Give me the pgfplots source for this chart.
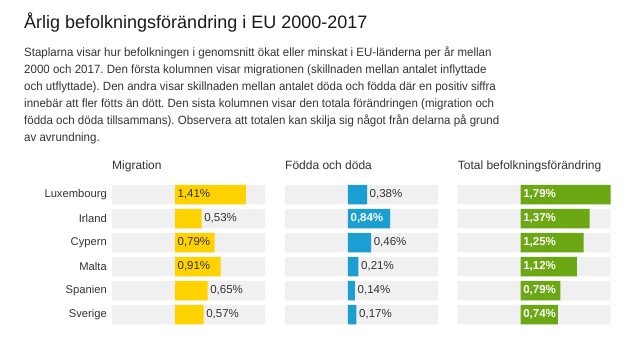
\documentclass[border=0pt]{standalone}
\usepackage{pgfplots}
\pgfplotsset{compat=1.18}
\usepackage{fontspec}
\setmainfont{Liberation Sans}
\newfontfamily\parafont{Liberation Sans}[FakeStretch=0.96]
\frenchspacing
\definecolor{migc}{HTML}{FFD200}
\definecolor{fodc}{HTML}{1B9FD2}
\definecolor{totc}{HTML}{6BA814}
\definecolor{trk}{HTML}{F0F0F0}
\definecolor{txt}{HTML}{333333}
\definecolor{ttl}{HTML}{1A1A1A}
\pgfplotsset{
  panel/.style={
    scale only axis, width=153pt, height=144pt,
    xmin=-1.25, xmax=1.79, ymin=-0.5, ymax=5.5, y dir=reverse,
    enlargelimits=false, clip=false,
    axis line style={draw=none}, tick style={draw=none},
    xtick=\empty, ytick=\empty,
    title style={at={(0,1)}, anchor=base west, yshift=6.8pt, inner sep=0pt,
      font=\fontsize{12}{14}\selectfont, text=txt},
  },
  barp/.style={xbar, bar shift=0pt, bar width=19.5pt, draw=none},
  inlab/.style={draw=none, mark=none, nodes near coords, point meta=explicit symbolic,
    nodes near coords style={anchor=west, inner sep=0pt, xshift=2.5pt,
      font=\fontsize{11.5}{13}\selectfont, text=#1}},
  boldlab/.style={draw=none, mark=none, nodes near coords, point meta=explicit symbolic,
    nodes near coords style={anchor=west, inner sep=0pt, xshift=2.5pt,
      font=\fontsize{11.5}{13}\selectfont\bfseries, text=white}},
}
\begin{document}
\begin{tikzpicture}
\path[use as bounding box, fill=white] (0pt,0pt) rectangle (640pt,-360pt);
\node[anchor=base west, inner sep=0pt, text=ttl, font=\fontsize{18}{22}\selectfont] at (24pt,-28pt) {Årlig befolkningsförändring i EU 2000-2017};
\begin{scope}[every node/.style={anchor=base west, inner sep=0pt, text=txt, font=\parafont\fontsize{12}{17}\selectfont}]
\node at (24pt,-56pt) {Staplarna visar hur befolkningen i genomsnitt ökat eller minskat i EU-länderna per år mellan};
\node at (24pt,-73pt) {2000 och 2017. Den första kolumnen visar migrationen (skillnaden mellan antalet inflyttade};
\node at (24pt,-90pt) {och utflyttade). Den andra visar skillnaden mellan antalet döda och födda där en positiv siffra};
\node at (24pt,-107pt) {innebär att fler fötts än dött. Den sista kolumnen visar den totala förändringen (migration och};
\node at (24pt,-124pt) {födda och döda tillsammans). Observera att totalen kan skilja sig något från delarna på grund};
\node at (24pt,-141pt) {av avrundning.};
\end{scope}

% Migration
\begin{axis}[panel, at={(112pt,-182.5pt)}, anchor=north west, title={Migration},
  ytick={0,1,2,3,4,5}, yticklabels={Luxembourg,Irland,Cypern,Malta,Spanien,Sverige},
  yticklabel style={anchor=east, inner sep=0pt, xshift=-5pt, font=\fontsize{11.2}{14}\selectfont, text=txt}]
\addplot[barp, fill=trk] coordinates {(1.79,0)(1.79,1)(1.79,2)(1.79,3)(1.79,4)(1.79,5)};
\addplot[barp, fill=trk] coordinates {(-1.25,0)(-1.25,1)(-1.25,2)(-1.25,3)(-1.25,4)(-1.25,5)};
\addplot[barp, fill=migc] coordinates {(1.41,0)(0.53,1)(0.79,2)(0.91,3)(0.65,4)(0.57,5)};
\addplot[inlab=txt] coordinates {(0,0) [1,41\%] (0,2) [0,79\%] (0,3) [0,91\%]};
\addplot[inlab=txt] coordinates {(0.53,1) [0,53\%] (0.65,4) [0,65\%] (0.57,5) [0,57\%]};
\end{axis}

% Födda och döda
\begin{axis}[panel, at={(285pt,-182.5pt)}, anchor=north west, title={Födda och döda}]
\addplot[barp, fill=trk] coordinates {(1.79,0)(1.79,1)(1.79,2)(1.79,3)(1.79,4)(1.79,5)};
\addplot[barp, fill=trk] coordinates {(-1.25,0)(-1.25,1)(-1.25,2)(-1.25,3)(-1.25,4)(-1.25,5)};
\addplot[barp, fill=fodc] coordinates {(0.38,0)(0.84,1)(0.46,2)(0.21,3)(0.14,4)(0.17,5)};
\addplot[boldlab] coordinates {(0,1) [0,84\%]};
\addplot[inlab=txt] coordinates {(0.38,0) [0,38\%] (0.46,2) [0,46\%] (0.21,3) [0,21\%] (0.14,4) [0,14\%] (0.17,5) [0,17\%]};
\end{axis}

% Total
\begin{axis}[panel, at={(457.7pt,-182.5pt)}, anchor=north west, title={Total befolkningsförändring}]
\addplot[barp, fill=trk] coordinates {(1.79,0)(1.79,1)(1.79,2)(1.79,3)(1.79,4)(1.79,5)};
\addplot[barp, fill=trk] coordinates {(-1.25,0)(-1.25,1)(-1.25,2)(-1.25,3)(-1.25,4)(-1.25,5)};
\addplot[barp, fill=totc] coordinates {(1.79,0)(1.37,1)(1.25,2)(1.12,3)(0.79,4)(0.74,5)};
\addplot[boldlab] coordinates {(0,0) [1,79\%] (0,1) [1,37\%] (0,2) [1,25\%] (0,3) [1,12\%] (0,4) [0,79\%] (0,5) [0,74\%]};
\end{axis}
\end{tikzpicture}
\end{document}
